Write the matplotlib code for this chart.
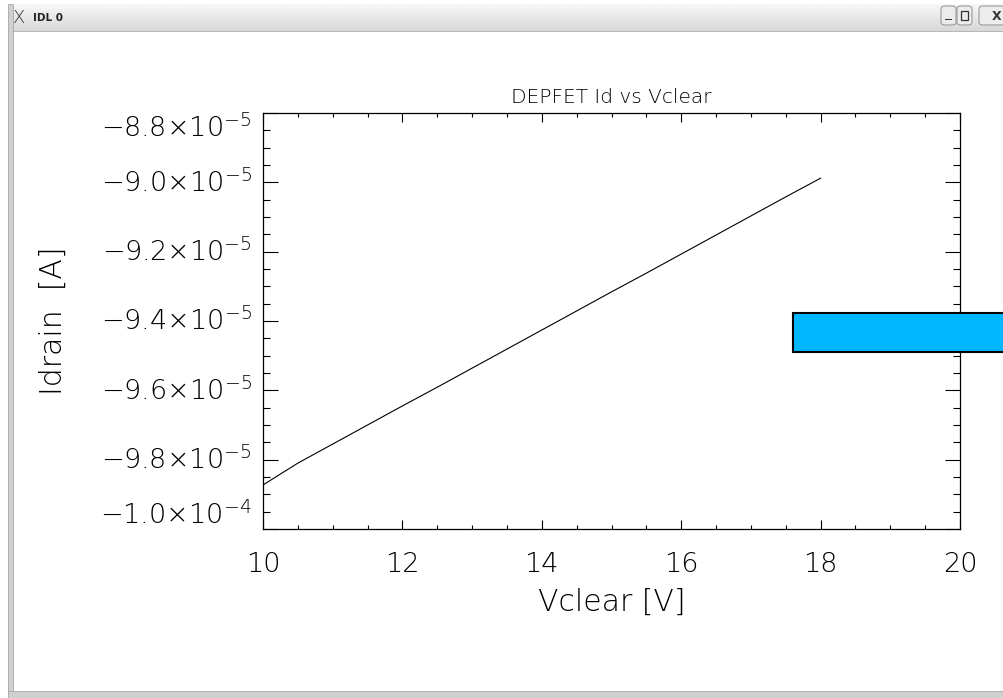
import numpy as np
import matplotlib
matplotlib.use("Agg")
from matplotlib import pyplot as plt
from matplotlib.patches import Rectangle, FancyBboxPatch
from matplotlib.ticker import MultipleLocator

# data
vclear = [10.0, 10.5, 11.0, 11.5, 12.0, 12.5, 13.0, 13.5, 14.0,
          14.5, 15.0, 15.5, 16.0, 16.5, 17.0, 17.5, 18.0]
idrain = [-9.873e-5, -9.810e-5, -9.755e-5, -9.700e-5, -9.645e-5, -9.591e-5,
          -9.536e-5, -9.481e-5, -9.426e-5, -9.371e-5, -9.316e-5, -9.262e-5,
          -9.207e-5, -9.152e-5, -9.097e-5, -9.042e-5, -8.988e-5]

xticks = [10, 12, 14, 16, 18, 20]
yticks = [-1.0e-4, -9.8e-5, -9.6e-5, -9.4e-5, -9.2e-5, -9.0e-5, -8.8e-5]
ytick_labels = [r"$-1.0{\times}10^{-4}$", r"$-9.8{\times}10^{-5}$",
                r"$-9.6{\times}10^{-5}$", r"$-9.4{\times}10^{-5}$",
                r"$-9.2{\times}10^{-5}$", r"$-9.0{\times}10^{-5}$",
                r"$-8.8{\times}10^{-5}$"]

W, H = 1004, 698


def fx(px):
    return px / W


def fy(py):
    return 1 - py / H


plt.rcParams['font.family'] = ['DejaVu Sans']
plt.rcParams['font.weight'] = 'ultralight'
plt.rcParams['axes.titleweight'] = 'ultralight'
plt.rcParams['axes.labelweight'] = 'ultralight'
plt.rcParams['mathtext.fontset'] = 'custom'
plt.rcParams['mathtext.rm'] = 'DejaVu Sans:ultralight'
plt.rcParams['mathtext.it'] = 'DejaVu Sans:ultralight'
plt.rcParams['mathtext.bf'] = 'DejaVu Sans:bold'

fig = plt.figure(figsize=(W / 100, H / 100), dpi=100)
fig.patch.set_facecolor('white')

# window chrome: title bar, borders, buttons
bar = fig.add_axes([fx(8), fy(32), 1 - fx(8), (32 - 4) / H])
bar.imshow(np.linspace(0.97, 0.84, 40)[:, None], cmap='gray', vmin=0, vmax=1,
           aspect='auto', extent=[0, 1, 0, 1])
bar.set_xlim(0, 1)
bar.set_ylim(0, 1)
bar.axis('off')
fig.add_artist(Rectangle((fx(8), fy(32)), 1, 0.0015, transform=fig.transFigure,
                         color='#b8b8b8', lw=0))
fig.add_artist(Rectangle((fx(8), fy(692)), fx(5), fy(4) - fy(692),
                         transform=fig.transFigure, facecolor='#d0d0d0',
                         edgecolor='#a8a8a8', lw=0.6))
fig.add_artist(Rectangle((fx(8), 0), 1, fy(691), transform=fig.transFigure,
                         facecolor='#d0d0d0', edgecolor='#a8a8a8', lw=0.6))
fig.text(fx(19), fy(18), 'X', fontsize=13, color='#333333', ha='center',
         va='center')
fig.text(fx(33), fy(18), 'IDL 0', fontsize=7.5, fontweight='bold',
         color='#222222', ha='left', va='center')
for x0, x1 in [(941, 956), (957, 972), (979, 1010)]:
    fig.add_artist(FancyBboxPatch((fx(x0), fy(25)), fx(x1) - fx(x0),
                                  fy(6) - fy(25), transform=fig.transFigure,
                                  boxstyle='round,pad=0,rounding_size=0.004',
                                  facecolor='#ececec', edgecolor='#9a9a9a',
                                  lw=0.8))
fig.add_artist(Rectangle((fx(945), fy(20)), fx(7), 0.002,
                         transform=fig.transFigure, color='#333333', lw=0))
fig.add_artist(Rectangle((fx(961), fy(20)), fx(7), fy(11) - fy(20),
                         transform=fig.transFigure, facecolor='none',
                         edgecolor='#333333', lw=0.9))
fig.text(fx(997), fy(16), 'X', fontsize=9, color='#333333', ha='center',
         va='center', fontweight='bold')

# the plot itself
ax = fig.add_axes([fx(263), fy(529), (960 - 263) / W, (529 - 113) / H])
ax.plot(vclear, idrain, color='black', lw=0.8)
ax.set_xlim(10, 20)
ax.set_ylim(-1.0e-4, -8.8e-5)
ax.set_xticks(xticks)
ax.set_xticklabels([str(v) for v in xticks])
ax.set_yticks(yticks)
ax.set_yticklabels(ytick_labels)
ax.xaxis.set_minor_locator(MultipleLocator(0.5))
ax.yaxis.set_minor_locator(MultipleLocator(0.5e-6))
ax.tick_params(which='both', direction='in', top=True, right=True,
               width=0.8, color='black')
ax.tick_params(axis='x', which='major', length=6.5, pad=16.5, labelsize=19.5)
ax.tick_params(axis='x', which='minor', length=3.2)
ax.tick_params(axis='y', which='major', length=10.8, pad=8, labelsize=19.5)
ax.tick_params(axis='y', which='minor', length=5)
for s in ax.spines.values():
    s.set_linewidth(0.9)

labels = ax.get_yticklabels()
for lab in labels:
    lab.set_va('center')
labels[0].set_va('bottom')
labels[-1].set_va('top')

ax.set_title('DEPFET Id vs Vclear', fontsize=14.5, y=(529 - 103) / 416, pad=0)
ax.set_xlabel('Vclear [V]', fontsize=21.5)
ax.xaxis.set_label_coords(0.5, (529 - 588) / 416)
ax.set_ylabel('Idrain  [A]', fontsize=21.5)
ax.yaxis.set_label_coords((68 - 263) / 697, 0.5)

# the blue widget that overlaps the window
fig.add_artist(Rectangle((fx(793), fy(352)), fx(230), fy(313) - fy(352),
                         transform=fig.transFigure, facecolor='#00b7ff',
                         edgecolor='black', lw=1.5, zorder=10))

fig.savefig('out.png', dpi=100)
